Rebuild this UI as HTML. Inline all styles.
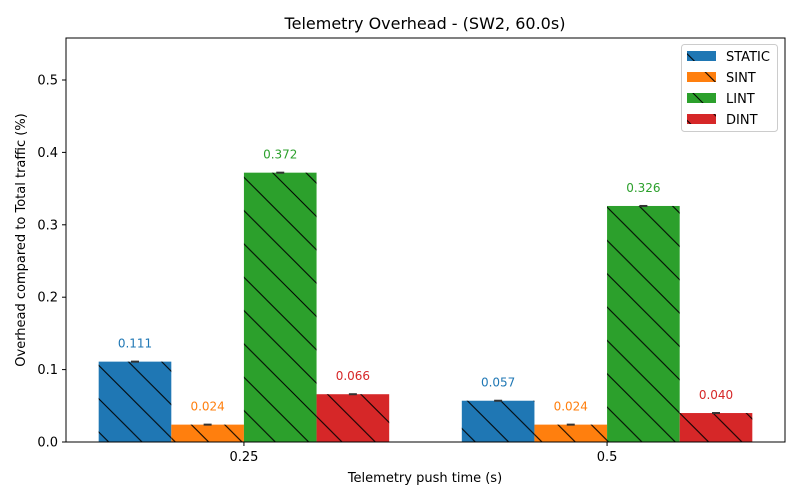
<!DOCTYPE html>
<html><head><meta charset="utf-8"><style>
html,body{margin:0;padding:0;background:#fff;}
svg{display:block;font-family:"DejaVu Sans","Liberation Sans",sans-serif;}
</style></head><body>
<svg id="chart" width="800" height="500" viewBox="0 0 800 500">
<defs>
<pattern id="hatch" patternUnits="userSpaceOnUse" width="33.33" height="33.33">
<line x1="-5" y1="-5" x2="38.33" y2="38.33" stroke="#000" stroke-width="1"/>
<line x1="-38.33" y1="-5" x2="5" y2="38.33" stroke="#000" stroke-width="1"/>
<line x1="28.33" y1="-5" x2="71.66" y2="38.33" stroke="#000" stroke-width="1"/>
</pattern>
</defs>
<text x="425" y="29" text-anchor="middle" font-size="16">Telemetry Overhead - (SW2, 60.0s)</text>
<g id="plot"></g>
<rect x="66" y="38" width="719" height="404" fill="none" stroke="#000" stroke-width="1"/>
<text x="425" y="482" text-anchor="middle" font-size="13">Telemetry push time (s)</text>
<text transform="translate(25,240) rotate(-90)" text-anchor="middle" font-size="13">Overhead compared to Total traffic (%)</text>
<g>
<rect x="681.5" y="44.5" width="96" height="87" rx="3" fill="#fff" stroke="#ccc"/>
<g id="legend-items"></g>
</g>
</svg>
<script>
const categories = ["0.25", "0.5"];
const seriesNames = ["STATIC", "SINT", "LINT", "DINT"];
const seriesColors = ["#1f77b4", "#ff7f0e", "#2ca02c", "#d62728"];
const staticVals = [0.111, 0.057];
const sintVals = [0.024, 0.024];
const lintVals = [0.372, 0.326];
const dintVals = [0.066, 0.040];
const yTicks = [0.0, 0.1, 0.2, 0.3, 0.4, 0.5];
const yTickLabels = ["0.0", "0.1", "0.2", "0.3", "0.4", "0.5"];

const series = [staticVals, sintVals, lintVals, dintVals];
const NS = "http://www.w3.org/2000/svg";
const plot = document.getElementById("plot");
const x0 = 66, x1 = 785, y0 = 442, y1 = 38;
const xMin = -0.49, xMax = 1.49, yMin = 0, yMax = 0.558;
function xs(v){ return x0 + (v - xMin) / (xMax - xMin) * (x1 - x0); }
function ys(v){ return y0 - (v - yMin) / (yMax - yMin) * (y0 - y1); }
function mk(tag, attrs, parent){
  const e = document.createElementNS(NS, tag);
  for (const k in attrs) e.setAttribute(k, attrs[k]);
  (parent || plot).appendChild(e);
  return e;
}
const bw = 0.2;
series.forEach((vals, s) => {
  vals.forEach((v, i) => {
    const cx = i + (s - 1.5) * bw;
    const left = xs(cx - bw / 2), right = xs(cx + bw / 2);
    const top = ys(v);
    const r = mk("rect", {x: left, y: top, width: right - left, height: ys(0) - top, fill: seriesColors[s]});
    
    
    const h = mk("rect", {x: left, y: top, width: right - left, height: ys(0) - top, fill: "url(#hatch)"});
    
    
    const c = mk("line", {x1: xs(cx) - 4, x2: xs(cx) + 4, y1: top, y2: top, stroke: "#333", "stroke-width": 2});
    
    
    const t = mk("text", {x: xs(cx), y: top - 14, "text-anchor": "middle", "font-size": "12", fill: seriesColors[s]});
    t.textContent = v.toFixed(3);
    
    
  });
});
yTicks.forEach((v, i) => {
  const l = mk("line", {x1: x0 - 4, x2: x0, y1: ys(v), y2: ys(v), stroke: "#000"});
  
  
  const t = mk("text", {x: x0 - 8, y: ys(v) + 4.5, "text-anchor": "end", "font-size": "13"});
  t.textContent = yTickLabels[i];
  
  
});
categories.forEach((c, i) => {
  const l = mk("line", {x1: xs(i), x2: xs(i), y1: y0, y2: y0 + 4, stroke: "#000"});
  
  
  const t = mk("text", {x: xs(i), y: y0 + 19, "text-anchor": "middle", "font-size": "13"});
  t.textContent = c;
  
  
});
const lg = document.getElementById("legend-items");
seriesNames.forEach((n, s) => {
  const y = 51 + s * 21;
  const r = mk("rect", {x: 687, y: y, width: 29, height: 10, fill: seriesColors[s]}, lg);
  
  
  const h = mk("rect", {x: 687, y: y, width: 29, height: 10, fill: "url(#hatch)"}, lg);
  
  
  const t = mk("text", {x: 726, y: y + 10, "font-size": "13"}, lg);
  t.textContent = n;
  
  
});
</script>
</body></html>
